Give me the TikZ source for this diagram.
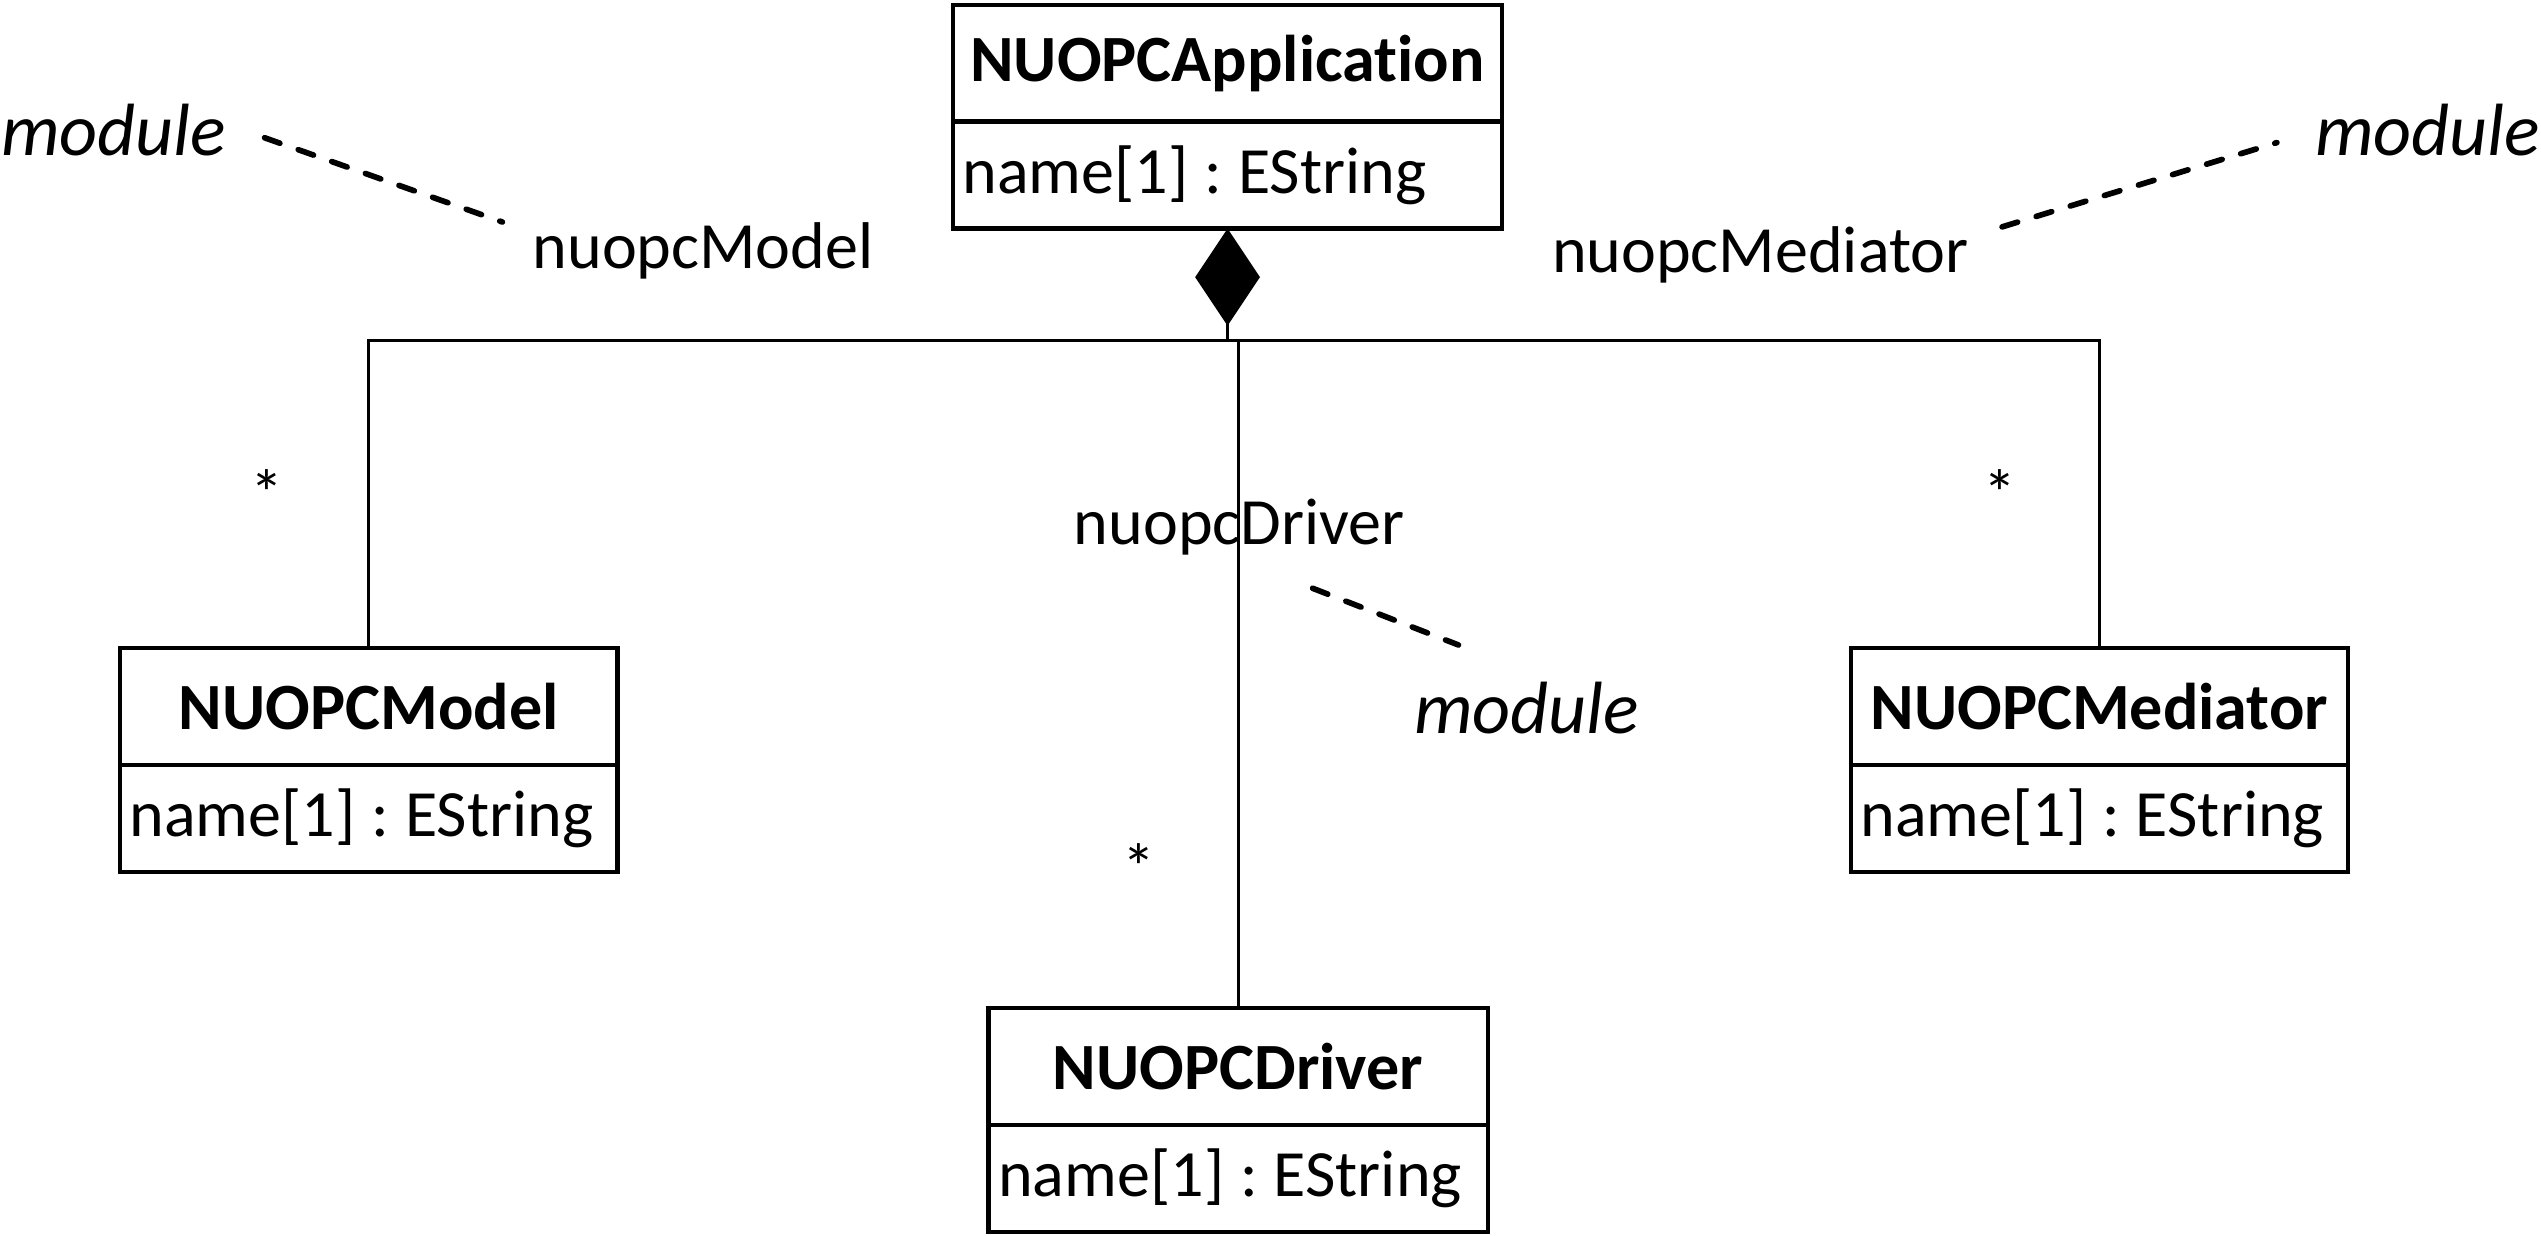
\documentclass[tikz,border=0pt]{standalone}
\usepackage{fontspec}
\setmainfont{Carlito}[Ligatures=NoCommon]
\usetikzlibrary{positioning,arrows.meta}
\tikzset{
  classname/.style={draw,line width=0.75pt,outer sep=0pt,inner sep=0pt,minimum height=0.72cm,font=\fontsize{11.6}{14}\selectfont\bfseries},
  classattr/.style={draw,line width=0.75pt,outer sep=0pt,inner xsep=0.06cm,inner ysep=0pt,minimum height=0.66cm,align=left,font=\fontsize{11.6}{14}\selectfont\frenchspacing},
  rolename/.style={anchor=west,inner sep=0pt,font=\fontsize{11.6}{14}\selectfont},
  stereo/.style={anchor=west,inner sep=0pt,font=\fontsize{13}{15}\selectfont\itshape},
  leader/.style={line width=1pt,line cap=round,dash pattern=on 0.1cm off 0.12cm},
  mult/.style={inner sep=0pt,font=\fontsize{11.6}{14}\selectfont},
  link/.style={line width=0.55pt},
}
\begin{document}
\begin{tikzpicture}
\useasboundingbox (0,0) rectangle (15.68,-7.627);
\foreach \n/\t/\x/\y/\w/\tw in {app/NUOPCApplication/7.575/-0.39/3.39/3.27,model/NUOPCModel/2.275/-4.36/3.07/2.95,med/NUOPCMediator/12.955/-4.36/3.07/2.95,drv/NUOPCDriver/7.64/-6.58/3.08/2.96}
{
    \node[classname,minimum width=\w cm] (\n) at (\x,\y) {\t};
    \node[classattr,minimum width=\w cm,text width=\tw cm,below=0pt of \n] (\n-attr) {name[1]\hspace{.24em}:\hspace{.24em}EString};
}
\node[stereo] (modL) at (0,-0.80) {module};
\node[stereo] (modR) at (14.28,-0.80) {module};
\node[stereo] (modD) at (8.72,-4.37) {module};
\node[rolename] (rmodel) at (3.28,-1.55) {nuopcModel};
\node[rolename] (rmed) at (9.57,-1.57) {nuopcMediator};
\node[rolename] (rdrv) at (6.62,-3.25) {nuopcDriver};
\foreach \s/\x/\y in {smodel/1.65/-3.04,smed/12.34/-3.04,sdrv/7.03/-5.35}
{
    \node[mult] (\s) at (\x,\y) {*};
}
\coordinate (hub) at (7.575,-2.10);
\draw[link,{Diamond[length=0.6cm,width=0.4cm]}-] (app-attr.south) -- (hub);
\draw[link] (hub) -| (model.north);
\draw[link] (hub) -| (med.north);
\draw[link] (drv.north) |- (hub);
\draw[leader] ([shift={(0.23,-0.05)}]modL.east) -- ([shift={(-0.18,0.18)}]rmodel.west);
\draw[leader] ([shift={(0.20,0.17)}]rmed.east) -- ([shift={(-0.23,-0.08)}]modR.west);
\draw[leader] ([shift={(1.48,-0.38)}]rdrv.west) -- ([shift={(0.28,0.39)}]modD.west);
\end{tikzpicture}
\end{document}
